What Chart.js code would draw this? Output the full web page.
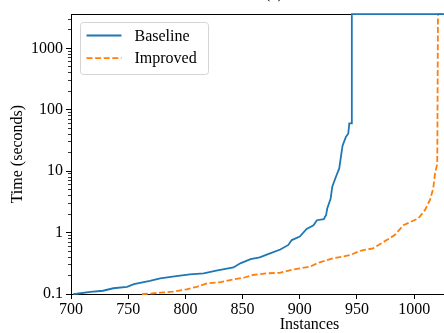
<!DOCTYPE html>
<html>
<head>
<meta charset="utf-8">
<script src="https://cdn.jsdelivr.net/npm/chart.js@4.4.1/dist/chart.umd.min.js"></script>
<style>
  html, body { margin: 0; padding: 0; background: #fff; overflow: hidden; width: 444px; height: 333px; }
  #wrap { position: absolute; left: 0; top: -16px; }
</style>
</head>
<body>
<div id="wrap"><canvas id="chart" width="548" height="349"></canvas></div>
<script>
  // cactus plot: instances solved vs time (log)
  const seriesNames = ["Baseline", "Improved"];
  const baseX = [702, 705, 717, 728, 737, 749, 755, 769, 778, 792, 804, 816, 827, 842, 848, 857, 865, 874, 883, 890, 893, 900, 906, 912, 915, 921, 923, 924, 927, 928.4, 931.6, 934.5, 937.4, 940.3, 942.4, 943.3, 945.3, 945.5, 1117];
  const baseY = [0.1, 0.101, 0.108, 0.113, 0.124, 0.131, 0.145, 0.164, 0.18, 0.195, 0.209, 0.217, 0.24, 0.27, 0.316, 0.37, 0.395, 0.46, 0.53, 0.63, 0.755, 0.86, 1.15, 1.32, 1.59, 1.66, 1.93, 2.47, 3.6, 5.6, 8.1, 11.1, 26, 36, 41, 60, 60, 3600, 3600];
  const impX = [762, 778, 789, 801, 810, 819, 830, 842, 851, 859, 871, 883, 894, 909, 915, 929, 944, 953, 964, 976, 983, 990.5, 1003.6, 1009.4, 1013.8, 1016.7, 1018.2, 1020.2, 1020.8, 1117];
  const impY = [0.099, 0.105, 0.109, 0.119, 0.131, 0.149, 0.155, 0.173, 0.184, 0.204, 0.217, 0.222, 0.25, 0.278, 0.316, 0.38, 0.43, 0.506, 0.553, 0.755, 0.91, 1.32, 1.7, 2.32, 3.4, 5.25, 9.1, 13.3, 3600, 3600];

  const xTicks = [700, 750, 800, 850, 900, 950, 1000, 1050, 1100];
  const yMajorTicks = [0.1, 1, 10, 100, 1000];
  const yMinorSteps = [2, 3, 4, 5, 6, 7, 8, 9];
  const xMin = 700, xMax = 1117, yMin = 0.1, yMax = 3600;

  const pairs = (xs, ys) => xs.map((x, i) => ({ x, y: ys[i] }));
  const yTicks = [];
  yMajorTicks.forEach(m => {
    yTicks.push(m);
    yMinorSteps.forEach(s => { if (m * s <= yMax) yTicks.push(m * s); });
  });
  const isMajor = v => yMajorTicks.some(m => Math.abs(m - v) < 1e-9);

  const FONT = '"Liberation Serif", "DejaVu Serif", serif';
  Chart.defaults.font.family = FONT;
  Chart.defaults.font.size = 16;
  Chart.defaults.color = "#000";

  const frameAndLegend = {
    id: "frameAndLegend",
    beforeDatasetsDraw(chart) {
      // top spine, under the lines
      const { ctx, chartArea: a } = chart;
      ctx.save();
      ctx.strokeStyle = "#000";
      ctx.lineWidth = 1;
      const ty = Math.round(a.top) + 0.5;
      ctx.beginPath(); ctx.moveTo(a.left, ty); ctx.lineTo(a.right, ty); ctx.stroke();
      ctx.restore();
    },
    afterDatasetsDraw(chart) {
      const { ctx, chartArea: a } = chart;
      ctx.save();
      const bx = Math.round(a.left) + 9.5, by = Math.round(a.top) + 8.5, bw = 128, bh = 52;
      ctx.beginPath();
      ctx.roundRect(bx, by, bw, bh, 3);
      ctx.fillStyle = "rgba(255,255,255,0.8)";
      ctx.fill();
      ctx.strokeStyle = "#d4d4d4";
      ctx.lineWidth = 1;
      ctx.stroke();

      chart.data.datasets.forEach((ds, i) => {
        const y = by + 13 + i * 22.7;
        ctx.strokeStyle = ds.borderColor;
        ctx.lineWidth = ds.borderWidth;
        ctx.setLineDash(ds.borderDash || []);
        ctx.beginPath(); ctx.moveTo(bx + 6, y); ctx.lineTo(bx + 41, y); ctx.stroke();
        ctx.setLineDash([]);
        ctx.fillStyle = "#000";
        ctx.font = "16px " + FONT;
        ctx.textBaseline = "middle";
        ctx.fillText(ds.label, bx + 54, y + 1);
      });
      ctx.restore();
    }
  };

  new Chart(document.getElementById("chart"), {
    type: "line",
    data: {
      datasets: [
        { label: seriesNames[0], data: pairs(baseX, baseY), borderColor: "#1f77b4", borderWidth: 1.8, clip: 3 },
        { label: seriesNames[1], data: pairs(impX, impY), borderColor: "#ff7f0e", borderWidth: 1.8, borderDash: [6, 2.6], clip: 3 }
      ]
    },
    options: {
      responsive: false,
      animation: false,
      layout: { padding: 0 },
      elements: { point: { radius: 0 }, line: { tension: 0, fill: false } },
      plugins: {
        legend: { display: false },
        tooltip: { enabled: false },
        title: { display: true, text: "(a)", font: { size: 16, weight: "normal" }, padding: { top: 0, bottom: 11 } }
      },
      scales: {
        x: {
          type: "linear",
          min: xMin, max: xMax,
          afterBuildTicks: s => { s.ticks = xTicks.map(v => ({ value: v })); },
          afterFit: s => { s.height = 39; s.paddingLeft = 0; s.paddingRight = 0; },
          ticks: { padding: 1, maxRotation: 0, autoSkip: false, callback: v => String(v) },
          grid: { drawOnChartArea: false, tickLength: 5, tickColor: "#000", tickWidth: 1 },
          border: { color: "#000", width: 1 },
          title: { display: true, text: "Instances", font: { size: 16, lineHeight: 1 }, padding: { top: 0, bottom: 0 } }
        },
        y: {
          type: "logarithmic",
          min: yMin, max: yMax,
          afterBuildTicks: s => { s.ticks = yTicks.map(v => ({ value: v, major: isMajor(v) })); },
          afterFit: s => { s.width = 71; s.paddingTop = 0; s.paddingBottom = 0; },
          ticks: { padding: 3, autoSkip: false, callback: v => isMajor(v) ? String(v) : "" },
          grid: {
            drawOnChartArea: false, tickLength: 5, tickColor: "#000",
            tickWidth: c => c.tick && isMajor(c.tick.value) ? 1 : 0.8,
            tickBorderDash: c => c.tick && isMajor(c.tick.value) ? [] : [0, 2, 3, 10]
          },
          border: { color: "#000", width: 1 },
          title: { display: true, text: "Time (seconds)", font: { size: 16 }, padding: { top: 8, bottom: 0 } }
        }
      }
    },
    plugins: [frameAndLegend]
  });
</script>
</body>
</html>
